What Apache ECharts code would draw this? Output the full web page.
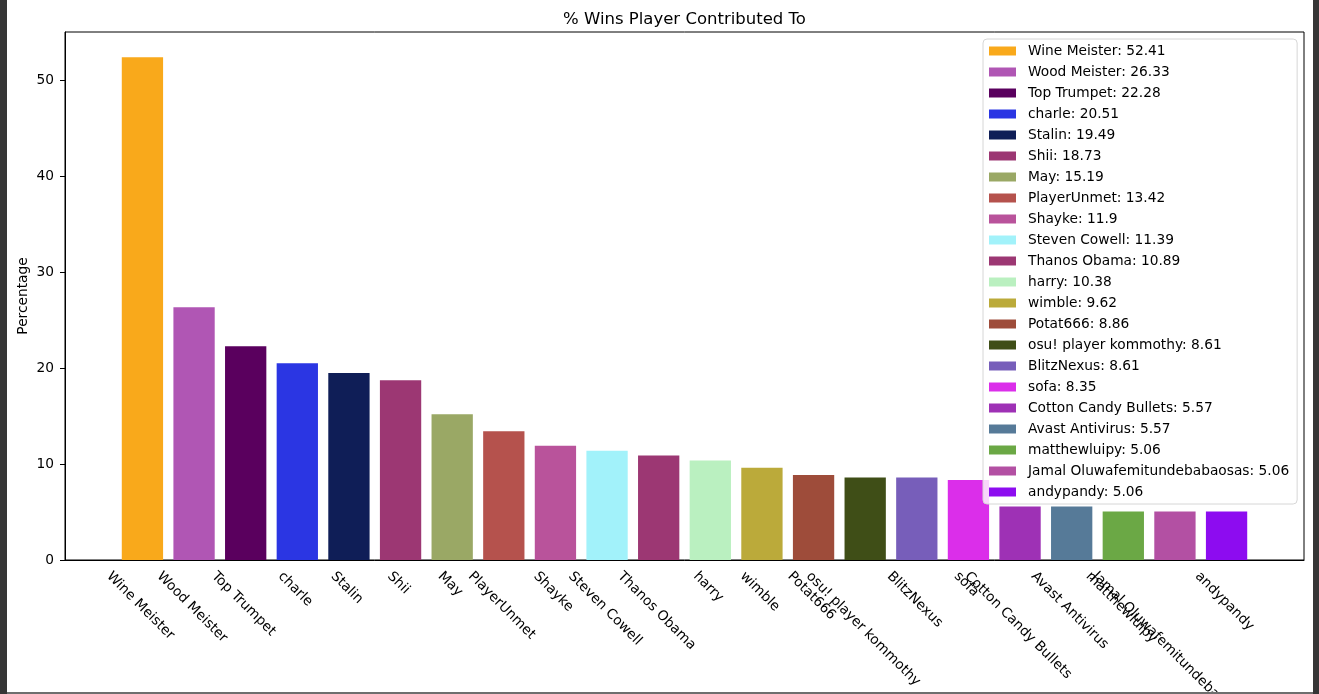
<!DOCTYPE html>
<html>
<head>
<meta charset="utf-8">
<script src="https://cdn.jsdelivr.net/npm/echarts@6/dist/echarts.min.js"></script>
<style>
  html, body { margin: 0; padding: 0; background: #363636; }
  #chart { position: absolute; left: 7px; top: 0; width: 1306px; height: 692px; background: #fff; }
  #edge { position: absolute; left: 7px; top: 692px; width: 1306px; height: 2px; background: #6e6e6e; }
</style>
</head>
<body>
<div id="chart"></div>
<div id="edge"></div>
<script>
const players = [
  'Wine Meister', 'Wood Meister', 'Top Trumpet', 'charle', 'Stalin', 'Shii', 'May',
  'PlayerUnmet', 'Shayke', 'Steven Cowell', 'Thanos Obama', 'harry', 'wimble', 'Potat666',
  'osu! player kommothy', 'BlitzNexus', 'sofa', 'Cotton Candy Bullets', 'Avast Antivirus',
  'matthewluipy', 'Jamal Oluwafemitundebabaosas', 'andypandy'
];
const percentages = [
  52.41, 26.33, 22.28, 20.51, 19.49, 18.73, 15.19, 13.42, 11.9, 11.39, 10.89,
  10.38, 9.62, 8.86, 8.61, 8.61, 8.35, 5.57, 5.57, 5.06, 5.06, 5.06
];
const barColors = [
  '#f9a91b', '#b056b4', '#5a005e', '#2b36e3', '#0f1e57', '#9c3773', '#9aa865',
  '#b5524d', '#b9539b', '#a2f2fa', '#9c3773', '#baf0c0', '#bbaa3a', '#9e4c3a',
  '#3f4e17', '#775eba', '#db2eea', '#9e31b5', '#567a98', '#6ba845', '#b350a3', '#8d0cf0'
];
const yTicks = [0, 10, 20, 30, 40, 50];

const FONT = 'DejaVu Sans';
const FS = 13.75;

// one empty slot on each side mimics the matplotlib x margins
const cats = [''].concat(players, ['']);

// matplotlib centres the rotated label's box on the tick; emulate with padding
const ctx = document.createElement('canvas').getContext('2d');
ctx.font = FS + 'px "' + FONT + '"';
const LABEL_MARGIN = -80;
const K = (10.6 - LABEL_MARGIN) / Math.SQRT1_2;
const rich = {};
players.forEach((p, i) => {
  const w = ctx.measureText(p).width;
  const diff = 0.5 * w - 2.1;
  const e = (K + diff) / 2;
  const d = (K - diff) / 2;
  // top padding only moves the text by half of it (token is centred in its line)
  rich['p' + i] = {
    fontSize: FS, fontFamily: FONT, color: '#000', lineHeight: 16,
    padding: [2 * e - 6, 0, 0, d]
  };
});

const series = players.map((p, i) => ({
  name: p + ': ' + percentages[i],
  type: 'bar',
  stack: 'all',
  barWidth: '80%',
  itemStyle: { color: barColors[i] },
  data: cats.map((c, j) => (j === i + 1 ? percentages[i] : null))
}));

const chart = echarts.init(document.getElementById('chart'), null, { renderer: 'canvas' });
chart.setOption({
  animation: false,
  textStyle: { fontFamily: FONT },
  title: {
    text: '% Wins Player Contributed To',
    left: 677.5,
    textAlign: 'center',
    top: 11,
    padding: 0,
    textStyle: { fontSize: 16.5, fontWeight: 'normal', color: '#000', fontFamily: FONT }
  },
  legend: {
    orient: 'vertical',
    left: 976,
    top: 39,
    padding: [5, 8, 5, 6],
    icon: 'rect',
    itemWidth: 27,
    itemHeight: 9,
    itemGap: 7,
    selectedMode: false,
    backgroundColor: 'rgba(255,255,255,0.8)',
    borderColor: '#d6d6d6',
    borderWidth: 1,
    borderRadius: 4,
    textStyle: { fontSize: FS, color: '#000', fontFamily: FONT, lineHeight: 14, padding: [0, 0, 0, 7] }
  },
  grid: {
    left: 58, right: 9, top: 32, bottom: 132,
    outerBoundsMode: 'none',
    containLabel: false,
    show: true, borderColor: '#000', borderWidth: 1
  },
  xAxis: {
    type: 'category',
    data: cats,
    boundaryGap: true,
    axisLine: { lineStyle: { color: '#000', width: 1 } },
    axisTick: {
      alignWithLabel: true, length: 5,
      lineStyle: { color: '#000' },
      interval: (idx, val) => val !== ''
    },
    axisLabel: {
      interval: 0,
      rotate: -45,
      align: 'left',
      verticalAlign: 'top',
      margin: LABEL_MARGIN,
      color: '#000',
      fontSize: FS,
      fontFamily: FONT,
      rich: rich,
      formatter: (val) => {
        const i = players.indexOf(val);
        return i < 0 ? '' : '{p' + i + '|' + val + '}';
      }
    },
    splitLine: { show: false }
  },
  yAxis: {
    type: 'value',
    min: yTicks[0],
    max: 55.03,
    interval: yTicks[1] - yTicks[0],
    name: 'Percentage',
    nameLocation: 'middle',
    nameGap: 35,
    nameMoveOverlap: false,
    nameTextStyle: { fontSize: FS, color: '#000', fontFamily: FONT },
    axisLine: { show: true, lineStyle: { color: '#000', width: 1 } },
    axisTick: { show: true, length: 5, lineStyle: { color: '#000' } },
    axisLabel: {
      margin: 11, color: '#000', fontSize: FS, fontFamily: FONT,
      showMaxLabel: false
    },
    splitLine: { show: false }
  },
  series: series
});
</script>
</body>
</html>
